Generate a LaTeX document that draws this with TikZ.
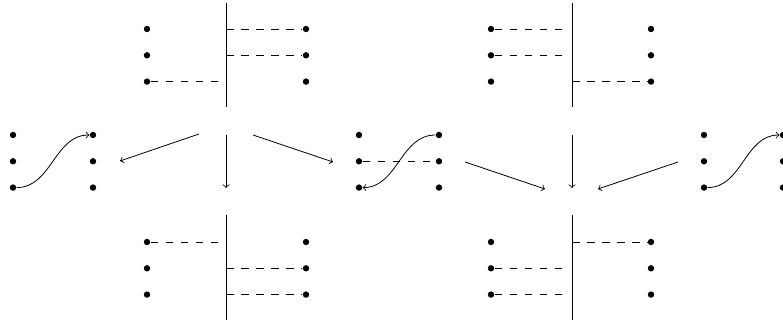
\documentclass[tikz,border=0pt]{standalone}
\begin{document}
\begin{tikzpicture}[x=0.5pt,y=-0.5pt,
  dot/.style={circle,fill,inner sep=0pt,minimum size=3.2pt},
  dsh/.style={dash pattern=on 3.75pt off 3.75pt},
  bar/.style={line width=0.45pt},
  arr/.style={->}]
\useasboundingbox (0,0) rectangle (783,324);

\foreach \d/\xl/\xr/\ya in {tl/147/306/29, tr/491/651/29, bl/147/306/242, br/491/651/242, ml/13/93/135, mm/359/439/135, mr/704/783/135}{
  \foreach \i in {1,2,3}{
    \node[dot] (\d-l\i) at (\xl,{\ya+(\i-1)*26.3}) {};
    \node[dot] (\d-r\i) at (\xr,{\ya+(\i-1)*26.3}) {};
  }
}

% bars
\coordinate (tl-top) at (226,3);   \coordinate (tl-bot) at (226,107);
\coordinate (tr-top) at (572,3);   \coordinate (tr-bot) at (572,107);
\coordinate (bl-top) at (226,215); \coordinate (bl-bot) at (226,320);
\coordinate (br-top) at (572,215); \coordinate (br-bot) at (572,320);
\coordinate (lgap) at (218,0);
\coordinate (rgap) at (564,0);
\draw[bar] (tl-top) -- (tl-bot);
\draw[bar] (tr-top) -- (tr-bot);
\draw[bar] (bl-top) -- (bl-bot);
\draw[bar] (br-top) -- (br-bot);

% dashed links
\draw[dsh] (tl-r1 -| tl-top) -- (tl-r1);
\draw[dsh] (tl-r2 -| tl-top) -- (tl-r2);
\draw[dsh] (tl-l3) -- (tl-l3 -| lgap);

\draw[dsh] (tr-l1) -- (tr-l1 -| rgap);
\draw[dsh] (tr-l2) -- (tr-l2 -| rgap);
\draw[dsh] (tr-r3 -| tr-top) -- (tr-r3);

\draw[dsh] (bl-l1) -- (bl-l1 -| lgap);
\draw[dsh] (bl-r2 -| bl-top) -- (bl-r2);
\draw[dsh] (bl-r3 -| bl-top) -- (bl-r3);

\draw[dsh] (br-r1 -| br-top) -- (br-r1);
\draw[dsh] (br-l2) -- (br-l2 -| rgap);
\draw[dsh] (br-l3) -- (br-l3 -| rgap);

\draw[dsh] (mm-l2) -- (mm-r2);

% curves
\draw[arr] (ml-l3) to[out=0,in=180] (ml-r1);
\draw[arr] (mm-r1) to[out=180,in=0] (mm-l3);
\draw[arr] (mr-l3) to[out=0,in=180] (mr-r1);

% arrows
\coordinate (a1s) at (199,134); \coordinate (a1e) at (120,161);
\coordinate (a2s) at (226,135); \coordinate (a2e) at (226,188);
\coordinate (a3s) at (253,135); \coordinate (a3e) at (333,162);
\coordinate (a4s) at (465,162); \coordinate (a4e) at (545,189);
\coordinate (a5s) at (572,135); \coordinate (a5e) at (572,188);
\coordinate (a6s) at (678,162); \coordinate (a6e) at (598,189);
\draw[arr] (a1s) -- (a1e);
\draw[arr] (a2s) -- (a2e);
\draw[arr] (a3s) -- (a3e);
\draw[arr] (a4s) -- (a4e);
\draw[arr] (a5s) -- (a5e);
\draw[arr] (a6s) -- (a6e);
\end{tikzpicture}
\end{document}
